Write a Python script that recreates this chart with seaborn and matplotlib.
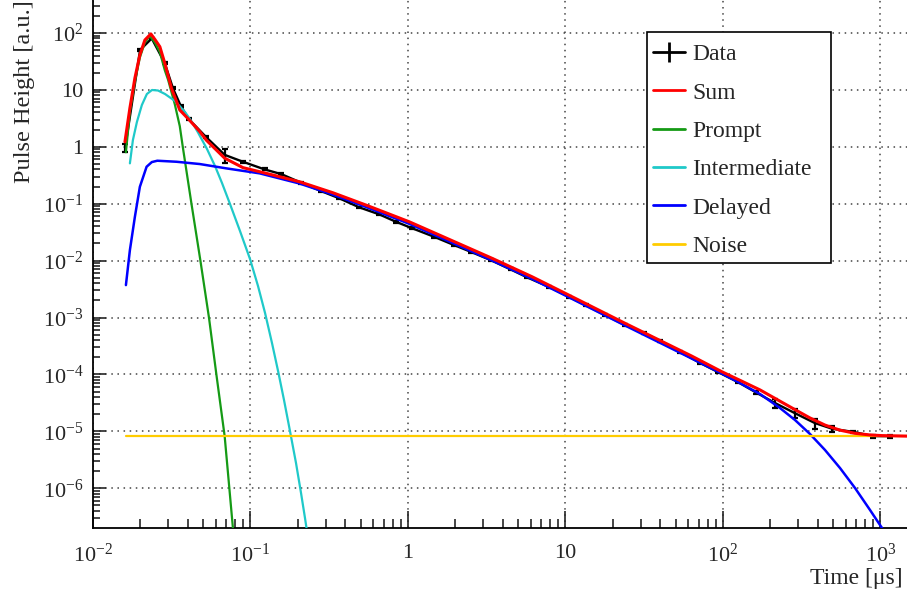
import numpy as np
import pandas as pd
import matplotlib
matplotlib.use("Agg")
import matplotlib.pyplot as plt
import seaborn as sns
from matplotlib.lines import Line2D
from matplotlib.patches import Rectangle
from matplotlib.ticker import LogLocator, FixedLocator, FuncFormatter, NullFormatter

# ---------------- data ----------------
data_t = [0.016, 0.0199, 0.0236, 0.0285, 0.0322, 0.0361, 0.0405, 0.0525, 0.0686, 0.0895,
          0.1228, 0.1567, 0.2098, 0.2808, 0.3666, 0.491, 0.657, 0.838, 1.068, 1.465,
          1.962, 2.502, 3.35, 4.485, 5.71, 7.84, 10.5, 13.4, 17.9, 24.0,
          31.3, 40.0, 53.5, 71.6, 92.5, 123.9, 162.7, 213.8, 286, 383,
          495, 670, 896, 1144]
data_y = [0.96, 50, 80, 29.9, 10.6, 5.19, 3.07, 1.46, 0.72, 0.545,
          0.40, 0.331, 0.233, 0.1665, 0.124, 0.0861, 0.0649, 0.0481, 0.0368, 0.0262,
          0.01873, 0.01428, 0.0102, 0.0070, 0.00507, 0.00346, 0.00231, 0.001645, 0.001098, 0.000732,
          0.000536, 0.000383, 0.000248, 0.000159, 0.000111, 7.38e-5, 4.8e-5, 3.15e-5, 2.09e-5, 1.40e-5,
          1.11e-5, 9.8e-6, 8.24e-6, 8.24e-6]
data_err = [0.15, 2, 3, 1.2, 0.4, 0.2, 0.12, 0.06, 0.2, 0.02,
            0.015, 0.012, 0.009, 0.006, 0.005, 0.003, 0.0025, 0.0018, 0.0014, 0.001,
            0.0007, 0.0005, 0.0004, 0.00027, 0.0002, 0.00013, 0.00009, 0.00006, 0.00004, 0.00003,
            0.00002, 0.000014, 0.00001, 0.000006, 0.000005, 0.000004, 0.000003, 5.5e-6, 4e-6, 2.8e-6,
            1.5e-6, 5e-7, 5e-7, 5e-7]

sum_t = [0.01595, 0.01715, 0.01845, 0.01984, 0.02135, 0.0233, 0.0247, 0.02657, 0.02858, 0.0315,
         0.03556, 0.04113, 0.04761, 0.0525, 0.06855, 0.0895, 0.1259, 0.2047, 0.3325, 0.5412,
         1.018, 1.913, 3.428, 6.145, 10.0, 23.99, 63.38, 98.1, 128.2, 171.8,
         230.1, 286.5, 356.7, 444.2, 553.3, 688.9, 857.9, 1022, 1480]
sum_y = [1.22, 4.79, 16.1, 40.9, 75.0, 96, 77, 57.2, 29.2, 10.6,
         4.42, 2.9, 1.85, 1.3, 0.63, 0.43, 0.341, 0.2426, 0.156, 0.0945,
         0.0481, 0.02228, 0.01093, 0.00519, 0.00265, 0.000787, 0.00021, 0.000112, 7.88e-5, 5.35e-5,
         3.39e-5, 2.41e-5, 1.72e-5, 1.29e-5, 1.05e-5, 9.24e-6, 8.65e-6, 8.43e-6, 8.25e-6]

prompt_t = [0.01618, 0.01715, 0.01845, 0.01984, 0.02135, 0.02296, 0.0247, 0.02657, 0.02858, 0.02998,
            0.03306, 0.03556, 0.03715, 0.04218, 0.0481, 0.05451, 0.06072, 0.06855, 0.07734, 0.0800]
prompt_y = [0.8, 4.1, 14, 37, 68, 88, 68, 46, 22, 15,
            5.6, 2.3, 1.0, 0.1, 0.0099, 0.00099, 0.0001, 8.2e-6, 2.0e-7, 1.0e-7]

inter_t = [0.01715, 0.01792, 0.0190, 0.02043, 0.02198, 0.02369, 0.02586, 0.02865, 0.03316, 0.03837,
           0.04251, 0.04662, 0.05294, 0.05952, 0.06592, 0.07411, 0.08576, 0.09927, 0.1116, 0.1237,
           0.1369, 0.1501, 0.1632, 0.1781, 0.1945, 0.2093, 0.2218, 0.2318]
inter_y = [0.511, 1.31, 2.72, 5.41, 8.44, 9.93, 9.73, 8.447, 6.365, 4.077,
           2.721, 1.744, 0.9131, 0.4589, 0.2308, 0.0987, 0.03311, 0.01067, 0.003579, 0.001201,
           0.0003569, 0.0001104, 3.557e-5, 1.015e-5, 2.782e-6, 8.27e-7, 3.01e-7, 1.339e-7]

delayed_t = [0.01618, 0.01715, 0.01845, 0.01984, 0.02189, 0.02363, 0.0256, 0.03389, 0.04761, 0.07026,
             0.1142, 0.2047, 0.3325, 0.5412, 1.018, 1.913, 3.428, 6.145, 10.0, 23.99,
             63.38, 98.1, 128.2, 171.8, 230.1, 286.5, 356.7, 444.2, 553.3, 688.9,
             857.9, 1022, 1149]
delayed_y = [0.00371, 0.01529, 0.0589, 0.198, 0.445, 0.538, 0.568, 0.545, 0.497, 0.417,
             0.341, 0.226, 0.1445, 0.0875, 0.0443, 0.0205, 0.0100, 0.00475, 0.00243, 0.00072,
             0.00019, 0.000104, 7.06e-5, 4.53e-5, 2.57e-5, 1.584e-5, 8.99e-6, 4.71e-6, 2.27e-6, 1.012e-6,
             4.16e-7, 2.01e-7, 1.24e-7]

noise_t = [0.0162, 1500]
noise_y = [8.23e-6, 8.23e-6]

x_ticks = [1e-2, 1e-1, 1, 10, 1e2, 1e3]
y_ticks = [1e-6, 1e-5, 1e-4, 1e-3, 1e-2, 1e-1, 1, 10, 1e2]

legend_labels = ["Data", "Sum", "Prompt", "Intermediate", "Delayed", "Noise"]
colors = {"Sum": "#ff0000", "Prompt": "#159a15", "Intermediate": "#1fc9c9",
          "Delayed": "#0000ff", "Noise": "#ffcc00"}

# ---------------- style ----------------
sns.set_style("ticks")
plt.rcParams["font.family"] = ["Liberation Serif", "DejaVu Serif"]
plt.rcParams["mathtext.fontset"] = "custom"
plt.rcParams["mathtext.rm"] = "Liberation Serif"
plt.rcParams["mathtext.it"] = "Liberation Serif:italic"
plt.rcParams["mathtext.bf"] = "Liberation Serif:bold"

W, H = 907, 598
fig = plt.figure(figsize=(W / 100, H / 100), dpi=100)
fig.patch.set_facecolor("white")
ax = fig.add_axes([93 / W, 70 / H, (W - 93) / W, 528 / H])
ax.set_facecolor("white")
ax.set_xscale("log")
ax.set_yscale("log")

# data with error bars
ax.errorbar(data_t, data_y, yerr=data_err, fmt="-", color="black", lw=1.7,
            elinewidth=1.6, capsize=2.2, capthick=1.6, zorder=3)

def curve(t, y, name, lw, z):
    df = pd.DataFrame({"t": t, "y": y})
    sns.lineplot(data=df, x="t", y="y", ax=ax, color=colors[name], lw=lw,
                 sort=False, estimator=None, zorder=z, legend=False)

curve(prompt_t, prompt_y, "Prompt", 1.6, 4)
curve(inter_t, inter_y, "Intermediate", 1.6, 4)
curve(delayed_t, delayed_y, "Delayed", 1.8, 4)
curve(noise_t, noise_y, "Noise", 1.6, 4)
curve(sum_t, sum_y, "Sum", 2.2, 5)

ax.set_xlim(0.01, 10 ** (-2 + (W - 93) / 157.5))
ax.set_ylim(10 ** (-6 - 39.7 / 56.925), 10 ** (2 + 32.9 / 56.925))

# ticks
def fmt(v, pos):
    e = int(round(np.log10(v)))
    if e == 0:
        return "1"
    if e == 1:
        return "10"
    return r"$\mathregular{10^{%d}}$" % e

ax.xaxis.set_major_locator(FixedLocator(x_ticks))
ax.yaxis.set_major_locator(FixedLocator(y_ticks))
for axis in (ax.xaxis, ax.yaxis):
    axis.set_minor_locator(LogLocator(base=10, subs=np.arange(2, 10), numticks=40))
    axis.set_major_formatter(FuncFormatter(fmt))
    axis.set_minor_formatter(NullFormatter())

ax.tick_params(axis="x", which="major", direction="in", length=12, width=1.2, pad=11.5, labelsize=16)
ax.tick_params(axis="x", which="minor", direction="in", length=6.5, width=1.2)
ax.tick_params(axis="y", which="major", direction="in", length=9, width=1.2, pad=7, labelsize=16)
ax.tick_params(axis="y", which="minor", direction="in", length=5, width=1.2)
ax.tick_params(top=False, right=False, which="both")

for s in ("top", "right"):
    ax.spines[s].set_visible(False)
for s in ("left", "bottom"):
    ax.spines[s].set_linewidth(1.3)
    ax.spines[s].set_color("black")

ax.grid(which="major", linestyle=(0, (1, 3)), color="#444444", linewidth=1.1)
ax.grid(which="minor", visible=False)

ax.set_xlabel("Time [μs]", fontsize=17, loc="right")
ax.xaxis.set_label_coords((903 - 93) / (W - 93), -40 / 528)
ax.set_ylabel("Pulse Height [a.u.]", fontsize=17.5, loc="top")
ax.yaxis.label.set_va("center")
ax.yaxis.set_label_coords((25 - 93) / (W - 93), 1.0)

# legend box (drawn separately) and frameless legend contents
box = Rectangle((647 / W, 1 - 263 / H), 184 / W, 231 / H, transform=fig.transFigure,
                facecolor="white", edgecolor="black", linewidth=1.2, zorder=9, clip_on=False)
ax.add_patch(box)

handles = [Line2D([], [], color="black", lw=2, marker="|", markersize=15, markeredgewidth=2)]
for name in legend_labels[1:]:
    handles.append(Line2D([], [], color=colors[name], lw=2))
leg = ax.legend(handles, legend_labels, loc="upper left",
                bbox_to_anchor=(647 / W, 1 - 38 / H),
                bbox_transform=fig.transFigure, borderaxespad=0,
                fontsize=17, handlelength=1.36, handletextpad=0.3,
                borderpad=0.25, labelspacing=0.71, frameon=False)
leg.set_zorder(10)

fig.savefig("out.png", dpi=100, facecolor="white")
